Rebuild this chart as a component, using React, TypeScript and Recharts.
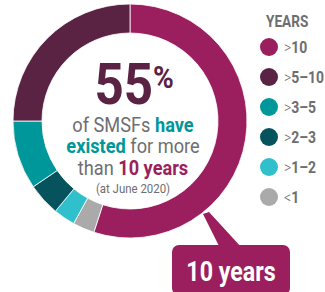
import React from "react";
import { PieChart, Pie, Cell, Legend } from "recharts";

const categories = [">10", "<1", ">1–2", ">2–3", ">3–5", ">5–10"];
const shares = [55, 3, 3, 4.5, 9.5, 25];
const colors = ["#9b1f5e", "#aaaaaa", "#2fc0cb", "#07535d", "#00979b", "#5b2343"];
const legendOrder = [">10", ">5–10", ">3–5", ">2–3", ">1–2", "<1"];

const data = categories.map((c, i) => ({ name: c, value: shares[i], color: colors[i] }));

const FONT = "Roboto, sans-serif";
const GREY = "#6d6e70";

// condensed-looking text: Roboto squeezed horizontally
const T = ({ x, y, s = 0.88, anchor = "start", children, ...rest }: any) => (
  <text transform={`translate(${x} ${y}) scale(${s} 1)`} x={0} y={0} textAnchor={anchor}
    fontFamily={FONT} {...rest}>{children}</text>
);

const LegendBox = () => (
  <svg width={63} height={215} style={{ overflow: "visible" }}>
    <T x={4} y={27} s={0.8} fontWeight={700} fontSize={17} fill={GREY}>YEARS</T>
    {legendOrder.map((name, i) => {
      const d = data.find(x => x.name === name)!;
      const y = 47 + i * 30;
      return (
        <g key={name}>
          <circle cx={7} cy={y} r={9} fill={d.color} />
          <T x={22} y={y + 6} s={0.82} fontSize={17} fill={GREY}>
            <tspan fontWeight={300}>{name[0]}</tspan>
            <tspan fontWeight={700}>{name.slice(1)}</tspan>
          </T>
        </g>
      );
    })}
  </svg>
);

export default function App() {
  return (
    <div style={{ position: "absolute", left: 0, top: 0, width: 325, height: 292, background: "#fff" }}>
      <PieChart width={325} height={292} margin={{ top: 0, right: 0, bottom: 0, left: 0 }}>
        <Pie data={data} dataKey="value" nameKey="name" cx={130} cy={121}
          innerRadius={88} outerRadius={117} startAngle={90} endAngle={-270}
          stroke="#fff" strokeWidth={0.8} isAnimationActive={false}>
          {data.map(d => <Cell key={d.name} fill={d.color} />)}
        </Pie>
        <Legend content={<LegendBox />} wrapperStyle={{ position: "absolute", left: 262, top: 0, width: 63 }} />
      </PieChart>
      <svg width={325} height={292} style={{ position: "absolute", left: 0, top: 0, pointerEvents: "none" }}>
        <T x={153} y={104} s={0.88} anchor="end" fontWeight={700} fontSize={58} fill="#5b2343">55</T>
        <T x={153} y={88} s={0.88} fontWeight={700} fontSize={32} fill="#5b2343">%</T>
        <T x={133} y={132} s={0.91} anchor="middle" fontSize={20} fill={GREY}>
          of SMSFs <tspan fontWeight={700} fill="#00979b">have</tspan>
        </T>
        <T x={133} y={153} s={0.91} anchor="middle" fontSize={20} fill={GREY}>
          <tspan fontWeight={700} fill="#00979b">existed</tspan> for more
        </T>
        <T x={133} y={175} s={0.91} anchor="middle" fontSize={20} fill={GREY}>
          than <tspan fontWeight={700} fill="#9b1f5e">10 years</tspan>
        </T>
        <T x={133} y={193} s={0.88} anchor="middle" fontSize={13} fill={GREY}>(at June 2020)</T>
        <polygon points="203,214 220,248 242,248 209,212" fill="#9b1f5e" />
        <rect x={172} y={245} width={118} height={50} rx={7} fill="#9b1f5e" />
        <T x={231} y={281} s={0.86} anchor="middle" fontWeight={700} fontSize={27} fill="#fff">10 years</T>
      </svg>
    </div>
  );
}
